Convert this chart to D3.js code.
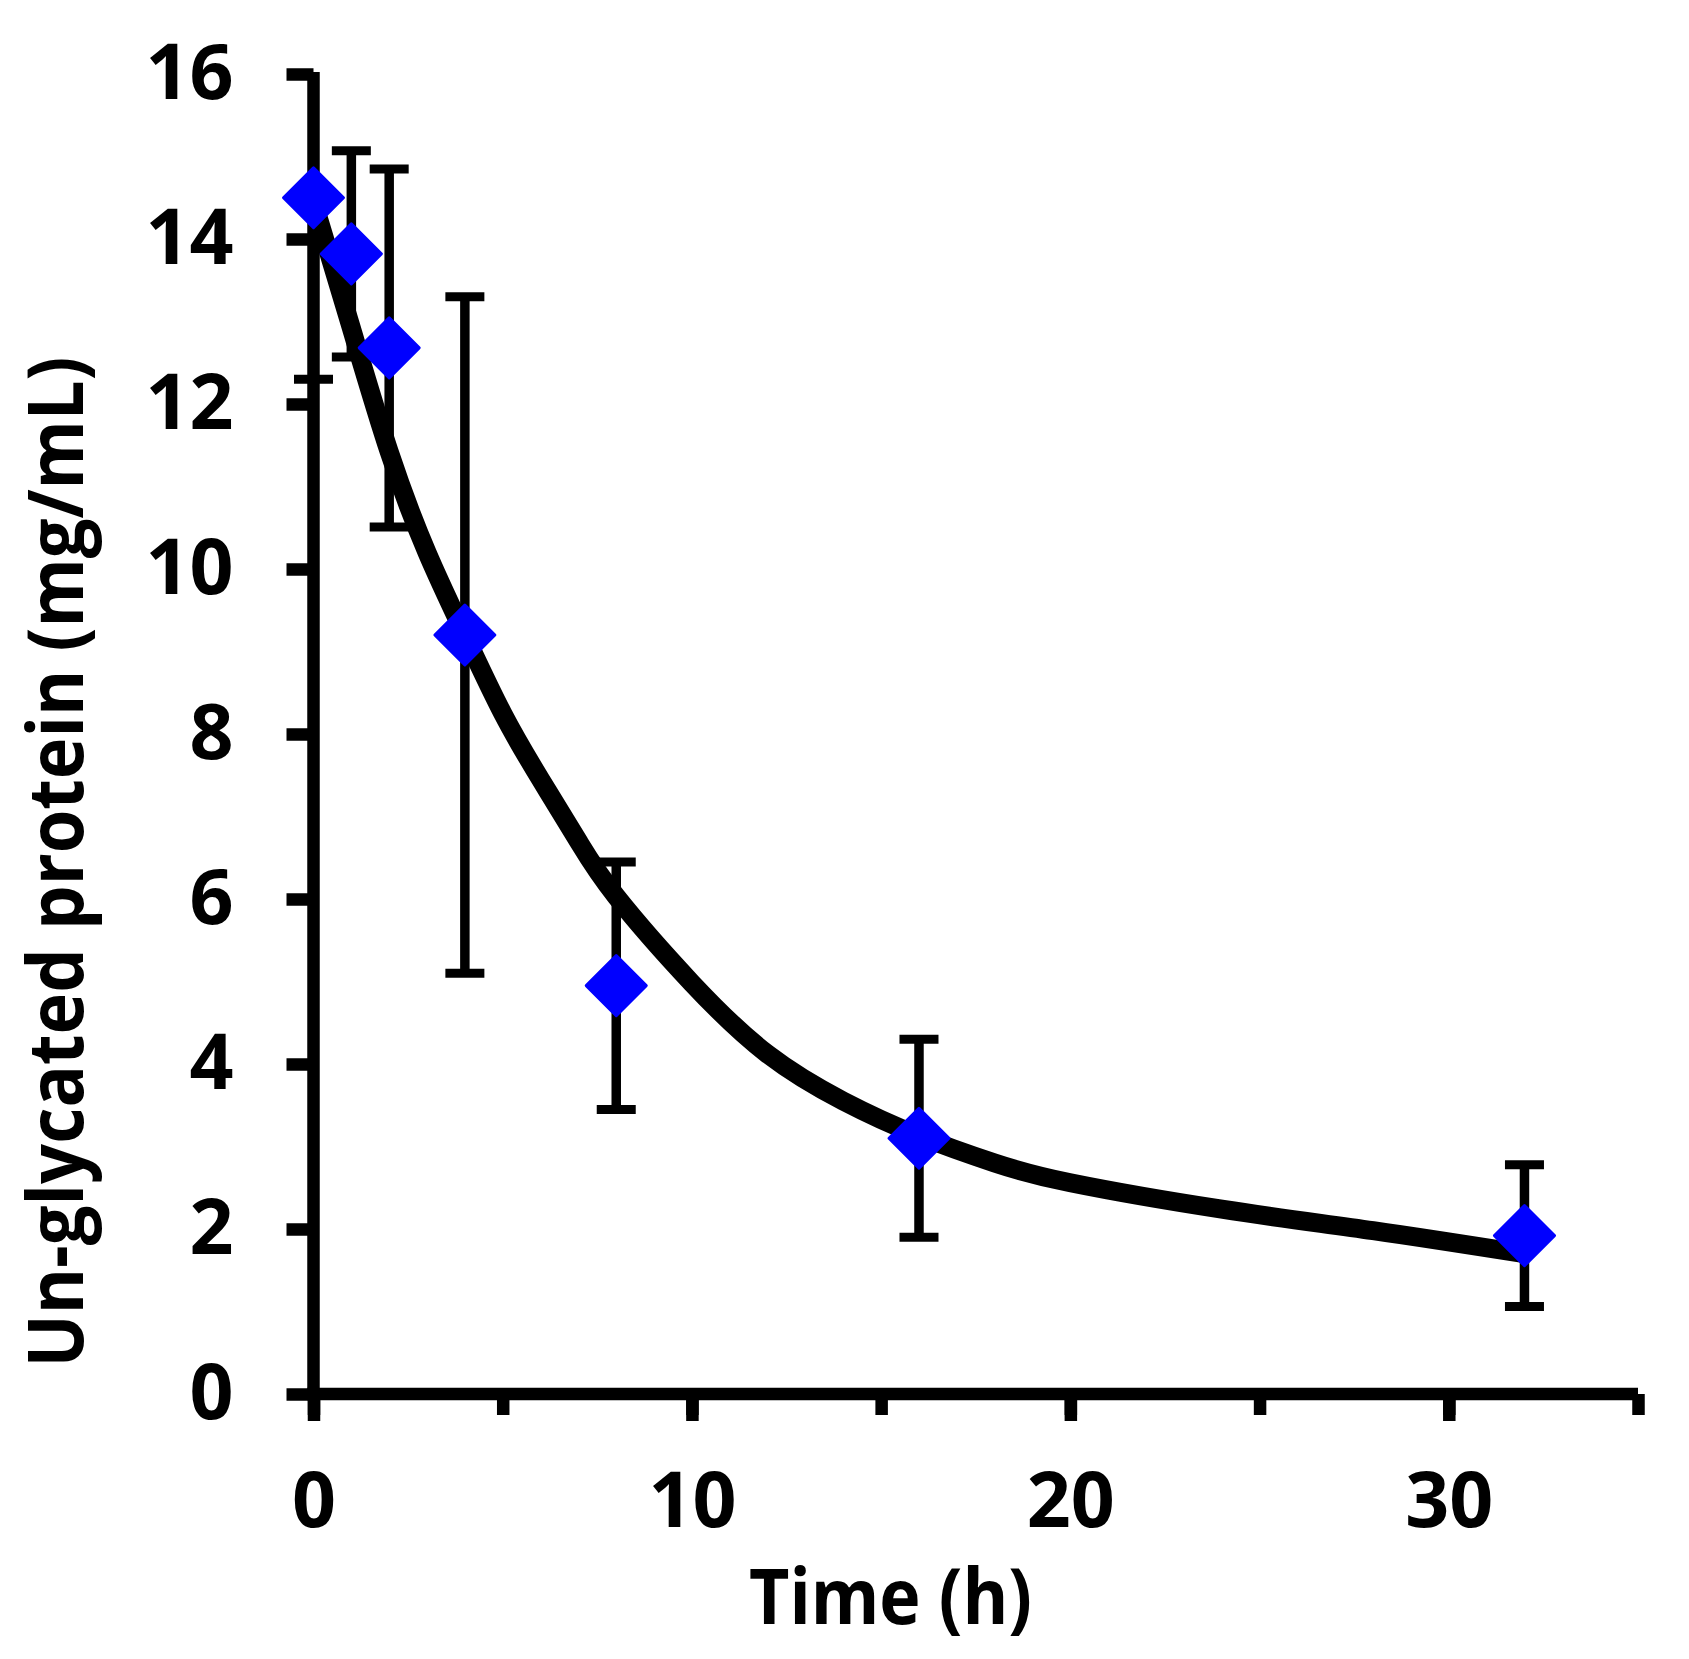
<!DOCTYPE html>
<html>
<head>
<meta charset="utf-8">
<script src="https://cdn.jsdelivr.net/npm/d3@7"></script>
<style>
    html, body { margin: 0; padding: 0; background: #fff; }
    svg { display: block; }
    text { font-family: "Open Sans", "Noto Sans", sans-serif; font-weight: 700; fill: #000; }
</style>
</head>
<body>
<div id="chart"></div>
<script>
// Measured data (mean and error bar half-length)
var times = [0, 1, 2, 4, 8, 16, 32];
var means = [14.5, 13.82, 12.68, 9.2, 4.95, 3.1, 1.92];
var errors = [2.2, 1.25, 2.17, 4.1, 1.5, 1.2, 0.86];

// Fitted curve
var fitTimes = [0, 1, 2, 3, 4, 5, 6, 7, 8, 10, 12, 14, 16, 18, 20, 24, 28, 32];
var fitValues = [14.45, 12.92, 11.42, 10.2, 9.2, 8.25, 7.45, 6.7, 6.03, 4.98, 4.12, 3.55, 3.13, 2.8, 2.56, 2.24, 1.98, 1.7];

// Axis ticks
var xMajorTicks = [0, 10, 20, 30];
var xMinorTicks = [0, 5, 10, 15, 20, 25, 30, 35];
var yTicks = [0, 2, 4, 6, 8, 10, 12, 14, 16];

var xTitle = "Time (h)";
var yTitle = "Un-glycated protein (mg/mL)";

var width = 1689, height = 1659;
var axisWidth = 12.5;
var fontSize = 77;

var svg = d3.select("#chart").append("svg")
    .attr("width", width)
    .attr("height", height);

// Scales
var x = d3.scaleLinear().domain([0, 35]).range([313.5, 1638]);
var y = d3.scaleLinear().domain([0, 16]).range([1394, 74]);

// Clip for error bars (Excel clips them at the plot area)
svg.append("clipPath").attr("id", "plotClip")
    .append("rect")
    .attr("x", 0)
    .attr("y", y(16))
    .attr("width", width)
    .attr("height", y(0) - y(16));

// Fitted curve
var line = d3.line()
    .x(function(d) { return x(d[0]); })
    .y(function(d) { return y(d[1]); })
    .curve(d3.curveNatural);

svg.append("path")
    .datum(d3.zip(fitTimes, fitValues))
    .attr("d", line)
    .attr("fill", "none")
    .attr("stroke", "#000")
    .attr("stroke-width", 19);

// Error bars
var points = times.map(function(t, i) {
    return { t: t, v: means[i], e: errors[i] };
});

var bars = svg.append("g").attr("clip-path", "url(#plotClip)")
    .selectAll("g")
    .data(points)
    .enter()
    .append("g");

bars.append("line")
    .attr("x1", function(d) { return x(d.t); })
    .attr("x2", function(d) { return x(d.t); })
    .attr("y1", function(d) { return y(d.v + d.e); })
    .attr("y2", function(d) { return y(d.v - d.e); })
    .attr("stroke", "#000")
    .attr("stroke-width", 9.5);

[1, -1].forEach(function(sign) {
    bars.append("line")
        .attr("x1", function(d) { return x(d.t) - 19.5; })
        .attr("x2", function(d) { return x(d.t) + 19.5; })
        .attr("y1", function(d) { return y(d.v + sign * d.e); })
        .attr("y2", function(d) { return y(d.v + sign * d.e); })
        .attr("stroke", "#000")
        .attr("stroke-width", 9);
});

// Axes
// x minor ticks
svg.append("g")
    .attr("transform", "translate(0," + y(0) + ")")
    .call(d3.axisBottom(x).tickValues(xMinorTicks).tickSizeInner(21).tickSizeOuter(0).tickFormat(""))
    .call(function(g) {
        g.select(".domain").remove();
        g.selectAll(".tick line").attr("stroke-width", axisWidth);
    });

// x major ticks with labels
var xAxis = svg.append("g")
    .attr("transform", "translate(0," + y(0) + ")")
    .call(d3.axisBottom(x).tickValues(xMajorTicks).tickSizeInner(27).tickSizeOuter(0).tickPadding(51).tickFormat(d3.format("d")));
xAxis.select(".domain")
    .attr("d", "M" + (x(0) - axisWidth / 2) + ",0H" + x(35))
    .attr("stroke-width", axisWidth);
xAxis.selectAll(".tick line").attr("stroke-width", axisWidth);
xAxis.selectAll(".tick text")
    .attr("font-size", fontSize)
    .attr("font-family", null);

// y axis
var yAxis = svg.append("g")
    .attr("transform", "translate(" + x(0) + ",0)")
    .call(d3.axisLeft(y).tickValues(yTicks).tickSizeInner(27).tickSizeOuter(0).tickPadding(53).tickFormat(d3.format("d")));
yAxis.select(".domain")
    .attr("d", "M0," + (y(16) - 2) + "V" + y(0))
    .attr("stroke-width", axisWidth);
yAxis.selectAll(".tick line").attr("stroke-width", axisWidth);
yAxis.selectAll(".tick text")
    .attr("font-size", fontSize)
    .attr("font-family", null);

// Diamonds
var r = 30;
svg.append("g")
    .selectAll("path")
    .data(points)
    .enter()
    .append("path")
    .attr("d", function(d) {
        var cx = x(d.t), cy = y(d.v);
        return "M" + cx + "," + (cy - r) + "L" + (cx + r) + "," + cy +
            "L" + cx + "," + (cy + r) + "L" + (cx - r) + "," + cy + "Z";
    })
    .attr("fill", "#0000ff")
    .attr("stroke", "#0000ff")
    .attr("stroke-width", 3)
    .attr("stroke-linejoin", "round");

// Axis titles
svg.append("text")
    .attr("x", 890.5)
    .attr("y", 1624)
    .attr("text-anchor", "middle")
    .attr("font-size", fontSize)
    .attr("textLength", 283)
    .attr("lengthAdjust", "spacingAndGlyphs")
    .text(xTitle);

svg.append("text")
    .attr("transform", "translate(83,862) rotate(-90)")
    .attr("text-anchor", "middle")
    .attr("font-size", fontSize)
    .attr("textLength", 1011)
    .attr("lengthAdjust", "spacingAndGlyphs")
    .text(yTitle);
</script>
</body>
</html>
